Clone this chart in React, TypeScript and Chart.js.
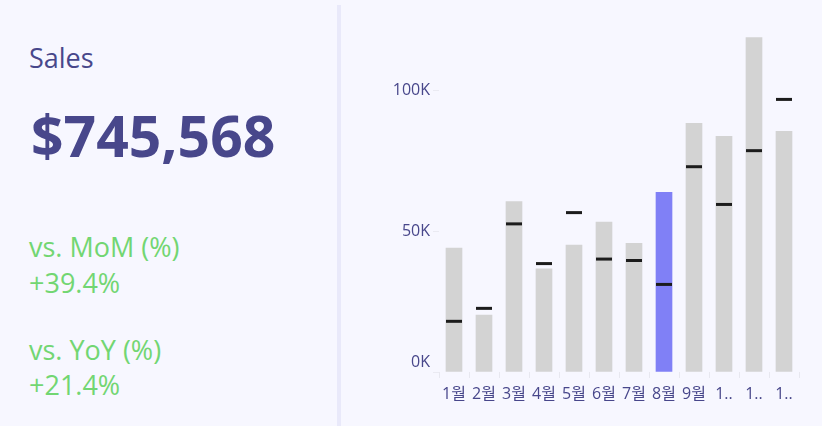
import React, { useEffect, useRef } from "react";
import { Chart, registerables } from "chart.js";

Chart.register(...registerables);

const months = ["1월", "2월", "3월", "4월", "5월", "6월", "7월", "8월", "9월", "10월", "11월", "12월"];
const salesThisYear = [44000, 20200, 60500, 36600, 45100, 53200, 45700, 63800, 88300, 83700, 118800, 85500];
const salesLastYear = [18000, 22600, 52600, 38500, 56600, 40100, 39600, 31100, 72900, 59500, 78600, 96800];
const yTickValues = [0, 50000, 100000];
const highlightMonth = "8월";

const kpiTitle = "Sales";
const kpiTotal = "$745,568";
const momLabel = "vs. MoM (%)";
const momValue = "+39.4%";
const yoyLabel = "vs. YoY (%)";
const yoyValue = "+21.4%";

const BG = "#f7f7ff";
const NAVY = "#48478b";
const GREEN = "#72d672";
const FONT = "'Open Sans', 'Noto Sans CJK KR', sans-serif";

export default function App() {
  const canvasRef = useRef<HTMLCanvasElement | null>(null);

  useEffect(() => {
    if (!canvasRef.current) return;
    const barColors = months.map((m) => (m === highlightMonth ? "#8080f6" : "#d3d3d3"));
    const chart = new Chart(canvasRef.current, {
      type: "bar",
      data: {
        labels: months,
        datasets: [
          {
            type: "line",
            label: "Last year",
            data: salesLastYear,
            showLine: false,
            pointStyle: "line",
            pointRadius: 8,
            pointHoverRadius: 8,
            pointBorderWidth: 3,
            pointBorderColor: "#1c1c1c",
            pointBackgroundColor: "#1c1c1c",
            order: 0,
          } as any,
          {
            type: "bar",
            label: "This year",
            data: salesThisYear,
            backgroundColor: barColors,
            borderWidth: 0,
            barThickness: 16,
            order: 1,
          },
        ],
      },
      options: {
        animation: false,
        responsive: true,
        maintainAspectRatio: false,
        layout: { padding: { top: 20, bottom: 14, left: 0, right: 23 } },
        plugins: { legend: { display: false }, tooltip: { enabled: false } },
        scales: {
          x: {
            offset: true,
            border: { display: false },
            grid: {
              offset: true,
              drawOnChartArea: false,
              drawTicks: true,
              tickLength: 6,
              color: "rgba(0,0,0,0.06)",
            },
            ticks: {
              autoSkip: false,
              maxRotation: 0,
              minRotation: 0,
              padding: 7,
              color: NAVY,
              font: { family: FONT, size: 16 },
              callback: function (this: any, value: any) {
                const label = String(this.getLabelForValue(value));
                return label.length > 2 ? label.slice(0, 1) + ".." : label;
              },
            },
            afterFit: (scale: any) => {
              scale.height = 40;
            },
          },
          y: {
            min: 0,
            max: 125000,
            border: { display: false },
            grid: {
              drawOnChartArea: false,
              drawTicks: true,
              tickLength: 6,
              color: "rgba(0,0,0,0.05)",
            },
            afterBuildTicks: (scale: any) => {
              scale.ticks = yTickValues.map((v) => ({ value: v }));
            },
            ticks: {
              padding: 3,
              color: NAVY,
              font: { family: FONT, size: 16 },
              callback: (value: any) => {
                const label = Math.round(Number(value) / 1000) + "K";
                return Number(value) === 0 ? [label, ""] : label;
              },
            },
            afterFit: (scale: any) => {
              scale.width = 94;
            },
          },
        },
      },
    });
    return () => chart.destroy();
  }, []);

  return (
    <div
      style={{
        position: "fixed",
        left: 0,
        top: 0,
        width: 822,
        height: 426,
        background: BG,
        overflow: "hidden",
      }}
    >
      <svg
        width={337}
        height={426}
        style={{ position: "absolute", left: 0, top: 0 }}
        fontFamily={FONT}
      >
        <text x={29} y={68} fontSize={27} fill={NAVY}>
          {kpiTitle}
        </text>
        <text x={31} y={157} fontSize={57} fontWeight={700} fill={NAVY}>
          {kpiTotal}
        </text>
        <text x={29} y={257} fontSize={27} fill={GREEN}>
          {momLabel}
        </text>
        <text x={29} y={293} fontSize={27} fill={GREEN}>
          {momValue}
        </text>
        <text x={29} y={360} fontSize={27} fill={GREEN}>
          {yoyLabel}
        </text>
        <text x={29} y={395} fontSize={27} fill={GREEN}>
          {yoyValue}
        </text>
      </svg>
      <div
        style={{
          position: "absolute",
          left: 337,
          top: 5,
          width: 4,
          height: 421,
          background: "#e9e9fa",
        }}
      />
      <div style={{ position: "absolute", left: 345, top: 0, width: 477, height: 426 }}>
        <canvas ref={canvasRef} />
      </div>
    </div>
  );
}
